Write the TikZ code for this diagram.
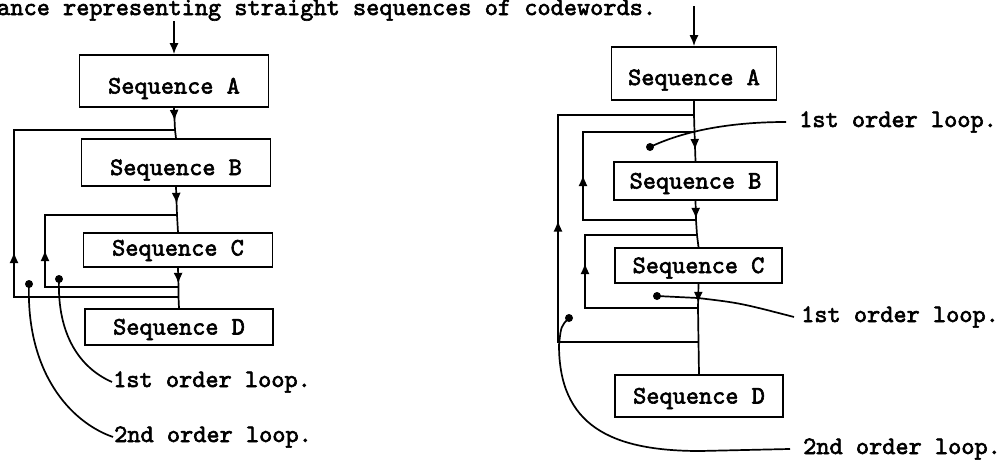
\documentclass[tikz,border=0pt]{standalone}
\usepackage{fontspec}
\usetikzlibrary{arrows.meta,decorations.markings}
\newfontfamily\tyfam{lmmono10-regular.otf}[FakeBold=2.4]
\newcommand{\tyfont}{\tyfam\fontsize{25.1}{30}\selectfont}
\tikzset{
  wire/.style={line width=1.7pt},
  seqbox/.style 2 args={draw, line width=1.7pt, inner sep=0pt, font=\tyfont,
    text height=15pt, text depth=0pt, minimum width=#1, minimum height=#2},
  arrowat/.style={decoration={markings, mark=at position #1 with {\arrow{Latex[length=11pt,width=9pt]}}}, postaction={decorate}},
  lbl/.style={font=\tyfont, inner sep=1pt, anchor=base west},
  blob/.style={circle, fill, inner sep=0pt, minimum size=8pt}
}
\begin{document}
\begin{tikzpicture}[x=1pt,y=-1pt]
\path[use as bounding box, fill=white] (0,0) rectangle (1003,459);

% heading line
\node[lbl, inner sep=0pt] (head) at (-3,15) {ance representing straight sequences of codewords.};

% ---------------- left diagram ----------------
\node[seqbox={189pt}{52pt}, text height=25pt] (LA) at (174,81) {Sequence A};
\node[seqbox={189pt}{47pt}, text height=25pt] (LB) at (176,162.5) {Sequence B};
\node[seqbox={189pt}{34pt}, text depth=4pt] (LC) at (178,250) {Sequence C};
\node[seqbox={188pt}{36pt}] (LD) at (179,327) {Sequence D};

\coordinate (LT) at (174,21);
\coordinate (J1) at (175,130);
\coordinate (J2) at (177,215);
\coordinate (J3) at (178.5,287);
\coordinate (J4) at (178.5,297);

\draw[wire,-{Latex[length=11pt,width=9pt]}] (LT) -- (LA.north);
\draw[wire,arrowat=13pt] (LA.south) -- (J1);
\draw[wire] (J1) -- (LB.north);
\draw[wire,arrowat=17pt] (LB.south) -- (J2);
\draw[wire] (J2) -- (LC.north);
\draw[wire,arrowat=16pt] (LC.south) -- (J3);
\draw[wire] (J3) -- (J4) -- (LD.north);

% loops
\draw[wire,arrowat=209.5pt] (J4) -- (14,297) -- (14,130) -- (J1);
\draw[wire,arrowat=170.5pt] (J3) -- (45,287) -- (45,215) -- (J2);

% loop labels
\node[blob] (ld1) at (59,279) {};
\node[blob] (ld2) at (29,284) {};
\node[lbl] (l1) at (112,387) {1st order loop.};
\node[lbl] (l2) at (113,442) {2nd order loop.};
\draw[wire] (ld1.center) .. controls (57,335) and (80,368) .. (l1.west);
\draw[wire] (ld2.center) .. controls (26,372) and (70,422) .. (l2.west);

% ---------------- right diagram ----------------
\node[seqbox={165pt}{53pt}, text height=23pt] (RA) at (694,73.5) {Sequence A};
\node[seqbox={163pt}{38pt}] (RB) at (695.5,181) {Sequence B};
\node[seqbox={167pt}{35pt}] (RC) at (698.5,265.5) {Sequence C};
\node[seqbox={168pt}{42pt}] (RD) at (699,396) {Sequence D};

\coordinate (RT) at (694,6);
\coordinate (K1) at (694,115);
\coordinate (K2) at (694.5,132);
\coordinate (K3) at (696,220);
\coordinate (K4) at (697,235);
\coordinate (K5) at (698,308);
\coordinate (K6) at (698.5,342);

\draw[wire,-{Latex[length=11pt,width=9pt]}] (RT) -- (RA.north);
\draw[wire] (RA.south) -- (K1) -- (K2);
\draw[wire,arrowat=18pt] (K2) -- (RB.north);
\draw[wire,arrowat=18pt] (RB.south) -- (K3);
\draw[wire] (K3) -- (K4) -- (RC.north);
\draw[wire,arrowat=19pt] (RC.south) -- (K5);
\draw[wire] (K5) -- (K6) -- (RD.north);

% loops
\draw[wire,arrowat=262pt] (K6) -- (558,342) -- (558,115) -- (K1);
\draw[wire,arrowat=158pt] (K3) -- (583,220) -- (583,132) -- (K2);
\draw[wire,arrowat=158pt] (K5) -- (585,308) -- (585,235) -- (K4);

% loop labels
\node[blob] (rd1) at (650,147) {};
\node[blob] (rd2) at (657,296) {};
\node[blob] (rd3) at (569,318) {};
\node[lbl] (r1) at (798,127) {1st order loop.};
\node[lbl] (r2) at (800,322) {1st order loop.};
\node[lbl] (r3) at (802,454) {2nd order loop.};
\draw[wire] (rd1.center) .. controls (690,128) and (740,122) .. ([xshift=-12pt]r1.west);
\draw[wire] (rd2.center) -- (698,298) .. controls (740,303) .. ([xshift=-6pt]r2.west);
\draw[wire] (rd3.center) .. controls (561,326) .. (559,345) .. controls (559,425) and (610,451) .. (700,451) -- ([xshift=-12pt]r3.west);
\end{tikzpicture}
\end{document}
